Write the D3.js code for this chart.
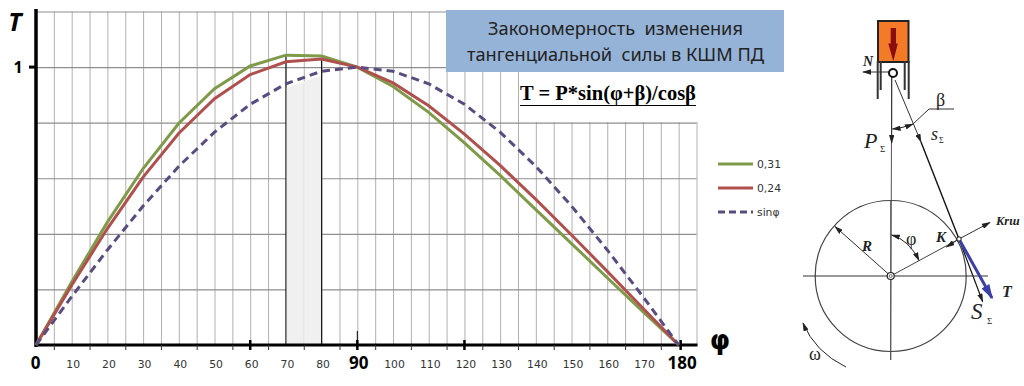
<!DOCTYPE html>
<html>
<head>
<meta charset="utf-8">
<script src="https://cdn.jsdelivr.net/npm/d3@7"></script>
<style>
  html, body { margin: 0; padding: 0; background: #fff; }
  svg { display: block; }
  text { white-space: pre; }
  .serif { font-family: "Liberation Serif", serif; }
  .sans { font-family: "Noto Sans", sans-serif; }
  .axis path { display: none; }
</style>
</head>
<body>
<svg id="chart" width="1024" height="386"></svg>
<script>
const angles = [0, 10, 20, 30, 40, 50, 60, 70, 80, 90, 100, 110, 120, 130, 140, 150, 160, 170, 180];
const green031 = [0, 0.227, 0.442, 0.635, 0.798, 0.922, 1.004, 1.043, 1.04, 1, 0.93, 0.837, 0.727, 0.61, 0.487, 0.365, 0.242, 0.12, 0];
const red024 = [0, 0.215, 0.419, 0.604, 0.762, 0.886, 0.973, 1.019, 1.029, 1, 0.943, 0.861, 0.759, 0.646, 0.524, 0.396, 0.265, 0.132, 0];
const sinPhi = [0, 0.174, 0.342, 0.5, 0.643, 0.766, 0.866, 0.94, 0.985, 1, 0.985, 0.94, 0.866, 0.766, 0.643, 0.5, 0.342, 0.174, 0];
const seriesNames = ["0,31", "0,24", "sinφ"];
const seriesColors = ["#7f9a48", "#b0504e", "#5b4c80"];
const boldAngles = [0, 90, 180];
const majorAngles = [60, 90, 120, 180];
const titleLines = ["Закономерность  изменения", "тангенциальной  силы в КШМ ПД"];

const svg = d3.select("#chart");
const xScale = d3.scaleLinear().domain([0, 185]).range([36, 696.5]);
const yScale = d3.scaleLinear().domain([0, 1.2]).range([345, 11.5]);
const gridAngles = d3.range(5, 186, 5);

/**
 * Draws the grey grid, the shaded 70-80 band and the white patch under the formula
 */
function drawGrid() {
  const bottom = yScale(0);
  const left = xScale(0);
  const right = xScale(185);

  svg.append("g").attr("class", "axis")
    .attr("transform", `translate(0,${bottom})`)
    .attr("color", "#b0b0b0")
    .call(d3.axisBottom(xScale).tickValues(gridAngles).tickSize(yScale(1.2) - bottom).tickFormat(""));

  svg.append("g").attr("class", "axis")
    .attr("transform", `translate(${left},0)`)
    .attr("color", "#8e8e8e")
    .call(d3.axisRight(yScale).tickValues([0.2, 0.4, 0.6, 0.8, 1, 1.2]).tickSize(right - left).tickFormat(""))
    .selectAll("line").attr("stroke-width", 1.2);

  // white patch: the formula sits on it, grid lines stop at its edge
  svg.append("rect").attr("x", 519).attr("y", 72).attr("width", 180).attr("height", yScale(0.8) - 72.7).attr("fill", "#fff");

  const band = d3.area()
    .x((d) => xScale(d))
    .y0(bottom)
    .y1((d) => yScale(sinPhi[angles.indexOf(d)]) + 4);
  svg.append("path").datum([70, 80]).attr("d", band).attr("fill", "#f0f0f0");
  svg.append("line")
    .attr("x1", xScale(75)).attr("x2", xScale(75))
    .attr("y1", yScale(0.94)).attr("y2", bottom)
    .attr("stroke", "#e2e2e2");

  // black lines on the edges of the band, up to the top curve
  svg.selectAll(".edge").data([70, 80]).join("line")
    .attr("x1", (d) => xScale(d)).attr("x2", (d) => xScale(d))
    .attr("y1", (d) => yScale(d === 70 ? green031[7] : red024[8])).attr("y2", bottom)
    .attr("stroke", "#000");
}

/**
 * Draws both thick axes, their ticks and labels
 */
function drawAxes() {
  const bottom = yScale(0);
  const left = xScale(0);

  svg.append("line").attr("x1", left).attr("x2", left).attr("y1", 9).attr("y2", bottom + 2)
    .attr("stroke", "#000").attr("stroke-width", 3.5);
  svg.append("line").attr("x1", left).attr("x2", xScale(185) + 1).attr("y1", bottom).attr("y2", bottom)
    .attr("stroke", "#000").attr("stroke-width", 3);

  // minor ticks sit between the labels
  svg.append("g").attr("class", "axis")
    .attr("transform", `translate(0,${bottom})`)
    .attr("color", "#333")
    .call(d3.axisBottom(xScale).tickValues(d3.range(5, 176, 10)).tickSize(5).tickFormat(""));

  svg.selectAll(".major").data(majorAngles).join("line")
    .attr("x1", (d) => xScale(d) + (d === 180 ? 2 : 0)).attr("x2", (d) => xScale(d) + (d === 180 ? 2 : 0))
    .attr("y1", bottom - 5).attr("y2", bottom + 5)
    .attr("stroke", "#000").attr("stroke-width", 2.5);
  svg.append("line").attr("x1", xScale(90)).attr("x2", xScale(90)).attr("y1", 331).attr("y2", bottom)
    .attr("stroke", "#000");

  const labels = svg.append("g").attr("class", "axis")
    .attr("transform", `translate(0,${bottom})`)
    .call(d3.axisBottom(xScale).tickValues(angles).tickSize(0).tickPadding(0));
  labels.selectAll("line").remove();
  labels.selectAll("text")
    .attr("y", 23)
    .attr("dy", 0)
    .attr("dx", (d) => (d === 180 ? 3 : d === 0 ? -1 : 1))
    .attr("fill", (d) => (boldAngles.includes(d) ? "#000" : "#333"))
    .attr("font-family", (d) => (boldAngles.includes(d) ? "Noto Sans" : "DejaVu Sans"))
    .attr("font-weight", (d) => (boldAngles.includes(d) ? "bold" : "normal"))
    .attr("font-size", (d) => (boldAngles.includes(d) ? 17 : 10.8));
  labels.selectAll("text").filter((d) => boldAngles.includes(d)).attr("y", 24);

  svg.append("line").attr("x1", 29).attr("x2", left).attr("y1", yScale(1)).attr("y2", yScale(1))
    .attr("stroke", "#000").attr("stroke-width", 3);
  svg.append("text").attr("class", "sans").attr("x", 18).attr("y", yScale(1) + 6)
    .attr("text-anchor", "middle").attr("font-size", 16).attr("font-weight", "bold").text("1");
  svg.append("text").attr("class", "sans").attr("x", 15).attr("y", 31)
    .attr("text-anchor", "middle").attr("font-size", 25).attr("font-weight", "bold").attr("font-style", "italic").text("T");
  svg.append("text").attr("x", 720).attr("y", 349)
    .attr("font-family", "DejaVu Sans")
    .attr("text-anchor", "middle").attr("font-size", 26).attr("font-weight", "bold").text("φ");
}

/**
 * Draws the three curves, the last one dashed
 */
function drawLines() {
  const line = d3.line()
    .x((d, i) => xScale(angles[i]))
    .y((d) => yScale(d));

  [green031, red024, sinPhi].forEach((values, i) => {
    svg.append("path")
      .attr("d", line(values))
      .attr("fill", "none")
      .attr("stroke", seriesColors[i])
      .attr("stroke-width", 3)
      .attr("stroke-dasharray", i === 2 ? "8 5" : null);
  });
}

/**
 * Draws the legend on the right of the plot
 */
function drawLegend() {
  const rows = svg.selectAll(".legend").data(seriesNames).join("g")
    .attr("transform", (d, i) => `translate(718,${164 + i * 24})`);
  rows.append("line")
    .attr("x2", 35)
    .attr("stroke", (d, i) => seriesColors[i])
    .attr("stroke-width", 3)
    .attr("stroke-dasharray", (d, i) => (i === 2 ? "7 4" : null));
  rows.append("text")
    .attr("x", 39).attr("y", 4)
    .attr("font-family", "DejaVu Sans").attr("font-size", 10.8).attr("fill", "#333")
    .text((d) => d);
}

/**
 * Draws the blue title box and the formula
 */
function drawTitle() {
  svg.append("rect").attr("x", 446).attr("y", 10).attr("width", 338).attr("height", 62).attr("fill", "#95b3d7");
  svg.selectAll(".title").data(titleLines).join("text")
    .attr("class", "sans")
    .attr("x", 615.5).attr("y", (d, i) => 35 + i * 26)
    .attr("text-anchor", "middle").attr("font-size", 18.2).attr("fill", "#222")
    .text((d) => d);

  svg.append("text").attr("class", "serif")
    .attr("x", 608).attr("y", 100)
    .attr("text-anchor", "middle").attr("font-size", 20.5).attr("font-weight", "bold")
    .text("T = P*sin(φ+β)/cosβ");
  svg.append("line").attr("x1", 520).attr("x2", 696).attr("y1", 105.5).attr("y2", 105.5).attr("stroke", "#000");
}

/**
 * Adds an arrowhead marker of the given colour and returns its url
 */
function arrowMarker(defs, id, color, size) {
  defs.append("marker")
    .attr("id", id)
    .attr("viewBox", "0 0 10 6")
    .attr("refX", 9).attr("refY", 3)
    .attr("markerUnits", "userSpaceOnUse")
    .attr("markerWidth", size).attr("markerHeight", size * 0.6)
    .attr("orient", "auto-start-reverse")
    .append("path").attr("d", "M0,0L10,3L0,6Z").attr("fill", color);
  return `url(#${id})`;
}

/**
 * Draws the crank mechanism scheme on the right side
 */
function drawScheme() {
  const cx = 890.7;
  const cy = 276;
  const radius = 75.5;
  const pin = [893, 73];
  const crankEnd = [959, 239];

  const defs = svg.append("defs");
  const dark = arrowMarker(defs, "dark", "#222", 9);
  const blue = arrowMarker(defs, "blue", "#3b3fa8", 15);

  const seg = (x1, y1, x2, y2, width, color) => svg.append("line")
    .attr("x1", x1).attr("y1", y1).attr("x2", x2).attr("y2", y2)
    .attr("stroke", color || "#333").attr("stroke-width", width || 1);
  const label = (x, y, str, size, style, weight) => svg.append("text").attr("class", "serif")
    .attr("x", x).attr("y", y).attr("font-size", size)
    .attr("font-style", style || "italic").attr("font-weight", weight || "normal")
    .attr("fill", "#222").text(str);

  // piston and cylinder
  svg.append("rect").attr("x", 878).attr("y", 21).attr("width", 30.5).attr("height", 41)
    .attr("fill", "#f37b28").attr("stroke", "#222").attr("stroke-width", 2);
  svg.append("path").attr("d", "M890.7,28H896V43.5H897.8L893.3,61.5L888.3,43.5H890.7Z").attr("fill", "#8b0d0d");
  seg(877.7, 61, 877.7, 99, 2);
  seg(908.7, 61, 908.7, 99, 2);
  seg(880.7, 61, 880.7, 90, 2);
  seg(904.7, 61, 904.7, 90, 2);

  // force lines from the pin
  seg(889, 72, 863, 72, 1).attr("marker-end", dark);
  label(863, 66, "N", 14, "italic", "bold");
  seg(891.7, 77, cx, 360, 1, "#555");
  seg(891.7, 77, 891.7, 143, 1, "#333").attr("marker-end", dark);
  seg(895, 80, 921, 142, 1, "#333").attr("marker-end", dark);
  seg(921, 142, crankEnd[0], crankEnd[1], 1.4, "#111");
  seg(crankEnd[0], crankEnd[1], 982.7, 301.7, 1.2, "#111").attr("marker-end", dark);
  svg.append("circle").attr("cx", pin[0]).attr("cy", pin[1]).attr("r", 4)
    .attr("fill", "#fff").attr("stroke", "#111").attr("stroke-width", 2);

  // beta
  svg.append("path").attr("d", "M892.5,129Q903,128 913,124").attr("fill", "none").attr("stroke", "#222")
    .attr("marker-start", dark).attr("marker-end", dark);
  svg.append("path").attr("d", "M913,124L929,109H954").attr("fill", "none").attr("stroke", "#333");
  label(936, 106, "β", 18, "normal");
  label(864, 148, "P", 22);
  label(880, 152, "Σ", 9, "normal");
  label(931, 140, "s", 18);
  label(939, 143, "Σ", 8, "normal");

  // crank circle
  svg.append("circle").attr("cx", cx).attr("cy", cy).attr("r", radius).attr("fill", "none").attr("stroke", "#444").attr("stroke-width", 1.2);
  seg(803, cy, 988, cy, 1.2, "#333");
  seg(cx, 200, cx, 360, 1, "#555");
  seg(cx, cy, crankEnd[0], crankEnd[1], 1, "#444");
  seg(cx, cy, 835, 226.5, 1, "#333").attr("marker-end", dark);
  label(862, 251, "R", 15, "italic", "bold");
  seg(crankEnd[0], crankEnd[1], 946.5, 247, 1, "#333").attr("marker-end", dark);
  seg(crankEnd[0], crankEnd[1], 990, 222.5, 1, "#333").attr("marker-end", dark);
  label(936, 242, "K", 15, "italic", "bold");
  label(996, 225, "Krш", 12.5, "italic", "bold");

  svg.append("path").attr("d", "M891.7,235Q909,240 919,260.5").attr("fill", "none").attr("stroke", "#222")
    .attr("marker-start", dark).attr("marker-end", dark);
  label(906, 245, "φ", 18, "normal");

  seg(crankEnd[0], crankEnd[1], 992, 298, 3, "#3b3fa8").attr("marker-end", blue);
  svg.append("circle").attr("cx", crankEnd[0]).attr("cy", crankEnd[1]).attr("r", 2.2)
    .attr("fill", "#fff").attr("stroke", "#111");
  label(1002, 297, "T", 16, "italic", "bold");
  label(971, 319, "S", 23);
  label(987, 324, "Σ", 9, "normal");

  svg.append("circle").attr("cx", cx).attr("cy", cy).attr("r", 3.5).attr("fill", "#fff").attr("stroke", "#222").attr("stroke-width", 1.2);
  svg.append("circle").attr("cx", cx).attr("cy", cy).attr("r", 1.5).attr("fill", "none").attr("stroke", "#666");

  // rotation direction
  svg.append("path").attr("d", "M846,367Q815,352 803,323").attr("fill", "none").attr("stroke", "#222").attr("marker-end", dark);
  label(809, 360, "ω", 18, "normal");
}

drawGrid();
drawTitle();
drawAxes();
drawLines();
drawLegend();
drawScheme();
</script>
</body>
</html>
